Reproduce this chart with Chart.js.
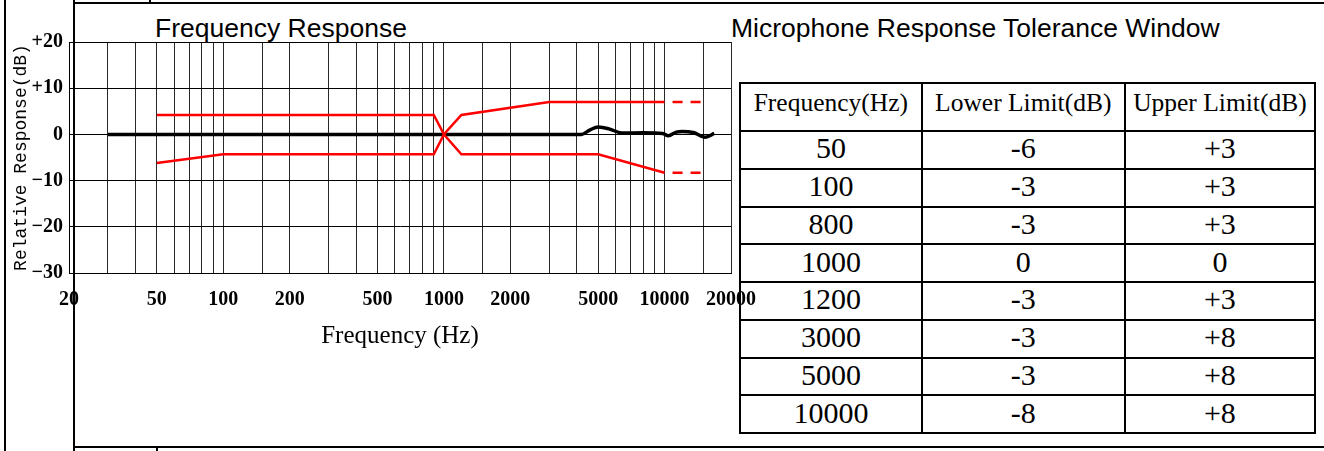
<!DOCTYPE html>
<html>
<head>
<meta charset="utf-8">
<script src="https://cdn.jsdelivr.net/npm/chart.js@4.4.1/dist/chart.umd.min.js"></script>
<style>
  html, body { margin: 0; padding: 0; background: #fff; }
  body { width: 1324px; height: 451px; position: relative; overflow: hidden; }
  #chart { position: absolute; left: 0; top: 0; z-index: 2; }
  .rule { position: absolute; background: #000; z-index: 3; }
  .title { position: absolute; font-family: 'Liberation Sans', Arial, sans-serif; font-size: 26.5px; line-height: 26.5px; color: #000; white-space: nowrap; }
  #tol { position: absolute; left: 739px; top: 82px; width: 577px; border-collapse: collapse; font-family: 'Liberation Serif', 'Times New Roman', serif; color: #000; z-index: 1; }
  #tol td, #tol th { border: 2px solid #000; text-align: center; padding: 0; font-weight: normal; }
  #tol th { height: 48px; font-size: 25.5px; padding-bottom: 9px; box-sizing: border-box; }
  #tol td { height: 37.75px; font-size: 30px; line-height: 30px; box-sizing: border-box; padding-bottom: 3px; }
</style>
</head>
<body>
<canvas id="chart" width="771" height="451"></canvas>

<div class="title" style="left:155px; top:15px;">Frequency Response</div>
<div class="title" style="left:731px; top:15px;">Microphone Response Tolerance Window</div>

<table id="tol">
  <thead><tr id="tol-head"></tr></thead>
  <tbody id="tol-body"></tbody>
</table>

<!-- page frame -->
<div class="rule" style="left:4px; top:0; width:2px; height:451px;"></div>
<div class="rule" style="left:73px; top:0; width:2px; height:451px;"></div>
<div class="rule" style="left:73px; top:2px; width:1251px; height:2px;"></div>
<div class="rule" style="left:149px; top:0; width:2px; height:3px;"></div>
<div class="rule" style="left:73px; top:446px; width:1251px; height:2px;"></div>
<div class="rule" style="left:156px; top:447px; width:2px; height:4px;"></div>

<script>
// grid and ticks
const gridFreqs = [20, 30, 40, 50, 60, 70, 80, 90, 100, 150, 200, 300, 400, 500, 600, 700, 800, 900,
  1000, 1500, 2000, 3000, 4000, 5000, 6000, 7000, 8000, 9000, 10000, 15000, 20000];
const labeledFreqs = [20, 50, 100, 200, 500, 1000, 2000, 5000, 10000, 20000];
const dbTicks = [-30, -20, -10, 0, 10, 20];

// tolerance window as drawn
const upperFreq = [50, 900, 1000, 1200, 3000, 10000];
const upperDb = [4.2, 4.2, 0, 4.2, 7, 7];
const lowerFreq = [50, 100, 900, 1000, 1200, 5000, 10000];
const lowerDb = [-6.2, -4.3, -4.3, 0, -4.3, -4.3, -8.3];
const extFreq = [10000, 15000];
const upperExtDb = [7, 7];
const lowerExtDb = [-8.3, -8.3];

// measured response
const responseFreq = [30, 4200, 4600, 5000, 5600, 6400, 8000, 9800, 10400, 11300, 12000, 13500, 15300, 16800];
const responseDb = [0, 0, 1.0, 1.6, 1.2, 0.3, 0.35, 0.2, -0.3, 0.5, 0.65, 0.4, -0.6, 0.2];

// table
const tableHead = ['Frequency(Hz)', 'Lower Limit(dB)', 'Upper Limit(dB)'];
const tableFreqs = [50, 100, 800, 1000, 1200, 3000, 5000, 10000];
const tableLower = [-6, -3, -3, 0, -3, -3, -3, -8];
const tableUpper = [3, 3, 3, 0, 3, 8, 8, 8];

const headRow = document.getElementById('tol-head');
const colWidths = [182, 204, 191];
tableHead.forEach((h, i) => {
  const th = document.createElement('th');
  th.textContent = h;
  th.style.width = colWidths[i] + 'px';
  headRow.appendChild(th);
});
const body = document.getElementById('tol-body');
const sign = (v) => (v > 0 ? '+' + v : String(v));
tableFreqs.forEach((f, i) => {
  const tr = document.createElement('tr');
  [String(f), String(tableLower[i]), sign(tableUpper[i])].forEach((t) => {
    const td = document.createElement('td');
    td.textContent = t;
    tr.appendChild(td);
  });
  body.appendChild(tr);
});

const pts = (xs, ys) => xs.map((x, i) => ({ x: x, y: ys[i] }));
const tickFont = { family: "'Liberation Serif', 'Times New Roman', serif", size: 20, weight: 'bold' };

new Chart(document.getElementById('chart'), {
  type: 'line',
  data: {
    datasets: [
      {
        data: pts(responseFreq, responseDb),
        borderColor: '#000',
        borderWidth: 3.5,
        cubicInterpolationMode: 'monotone',
        pointRadius: 0,
        order: 2
      },
      { data: pts(upperFreq, upperDb), borderColor: '#ff0000', borderWidth: 2.5, pointRadius: 0, order: 1 },
      { data: pts(lowerFreq, lowerDb), borderColor: '#ff0000', borderWidth: 2.5, pointRadius: 0, order: 1 },
      { data: pts(extFreq, upperExtDb), borderColor: '#ff0000', borderWidth: 2.5, borderDash: [10, 8], borderDashOffset: 10, pointRadius: 0, order: 1 },
      { data: pts(extFreq, lowerExtDb), borderColor: '#ff0000', borderWidth: 2.5, borderDash: [10, 8], borderDashOffset: 10, pointRadius: 0, order: 1 }
    ]
  },
  options: {
    responsive: false,
    animation: false,
    layout: { padding: { left: 0, top: 42, right: 28, bottom: 88 } },
    plugins: { legend: { display: false }, tooltip: { enabled: false } },
    scales: {
      x: {
        type: 'logarithmic',
        min: 20,
        max: 20000,
        afterBuildTicks: (scale) => { scale.ticks = gridFreqs.map((v) => ({ value: v })); },
        afterFit: (scale) => { scale.height = 90; },
        grid: { color: '#2a2a2a', lineWidth: 1, drawTicks: false },
        border: { color: '#000', width: 1 },
        ticks: {
          autoSkip: false,
          maxRotation: 0,
          padding: 15,
          color: '#000',
          font: tickFont,
          callback: (v) => (labeledFreqs.includes(v) ? String(v) : '')
        },
        title: {
          display: true,
          text: 'Frequency (Hz)',
          color: '#000',
          font: { family: "'Liberation Serif', 'Times New Roman', serif", size: 25 },
          padding: { top: 0, bottom: 12 }
        }
      },
      y: {
        min: -30,
        max: 20,
        afterBuildTicks: (scale) => { scale.ticks = dbTicks.map((v) => ({ value: v })); },
        afterFit: (scale) => { scale.width = 69; },
        grid: { color: '#000', lineWidth: 1, drawTicks: false },
        border: { color: '#000', width: 1 },
        ticks: {
          padding: 6,
          color: '#000',
          font: tickFont,
          callback: (v) => (v > 0 ? '+' + v : v < 0 ? '\u2212' + Math.abs(v) : '0')
        },
        title: {
          display: true,
          text: 'Relative Response(dB)',
          color: '#000',
          font: { family: "'Liberation Mono', 'DejaVu Sans Mono', monospace", size: 18 },
          padding: { top: 10, bottom: 0 }
        }
      }
    }
  }
});
</script>
</body>
</html>
